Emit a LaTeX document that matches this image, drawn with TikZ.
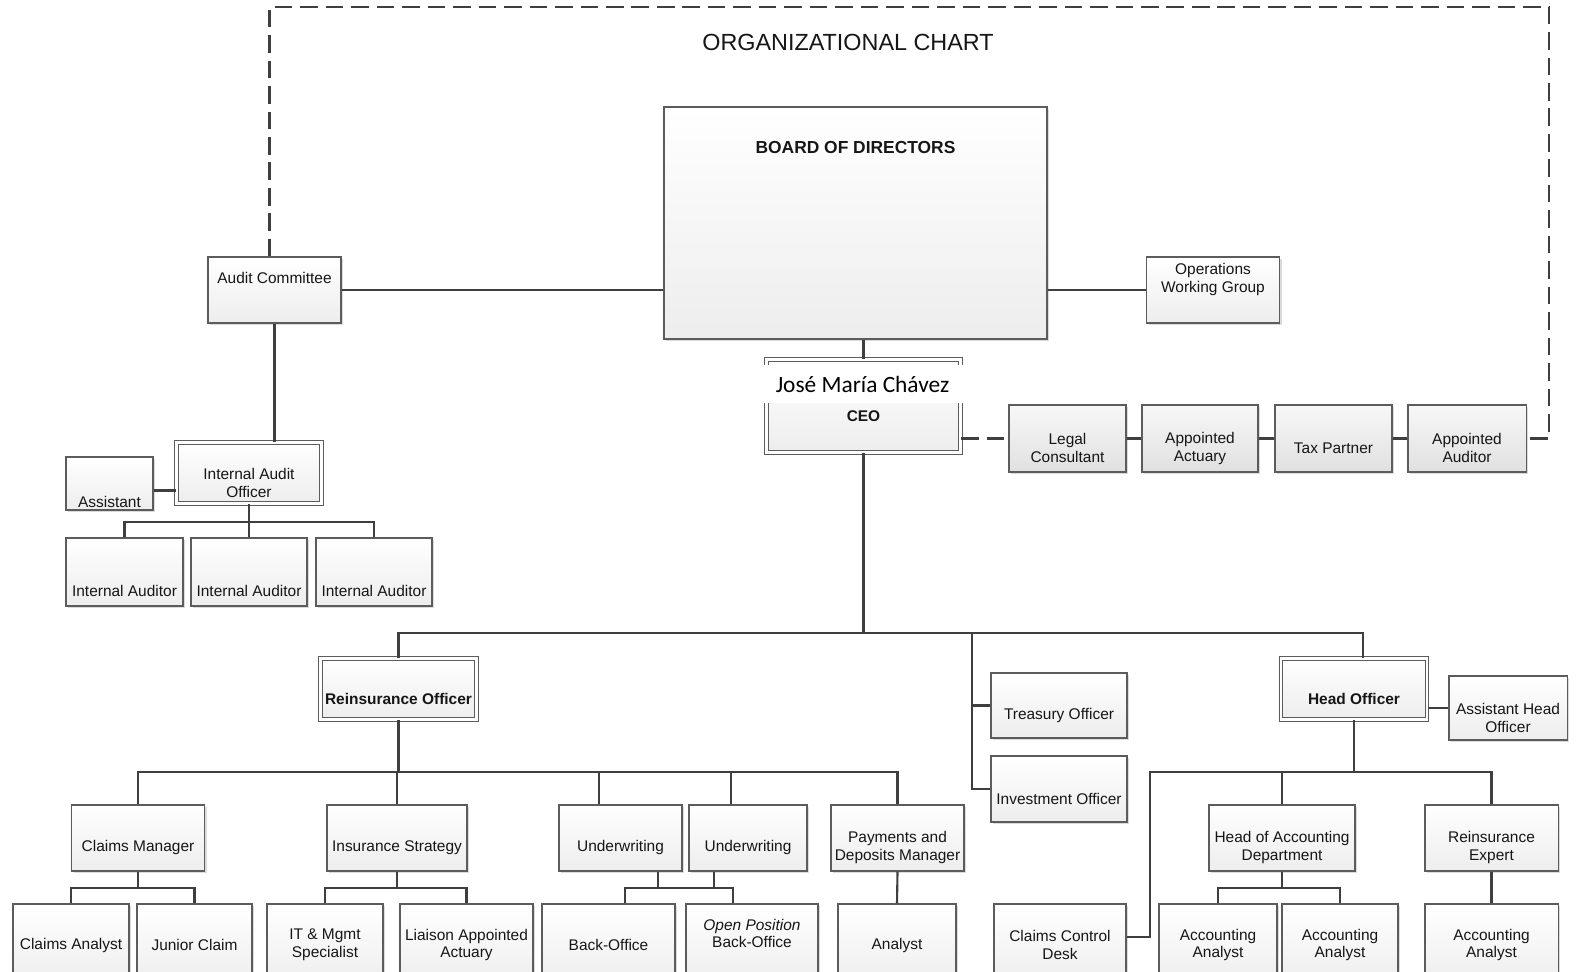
\documentclass[tikz,border=0pt]{standalone}
\usepackage{fontspec}
\setmainfont{Liberation Sans}
\newfontfamily\namefont{Carlito}
\usetikzlibrary{shadows}
\definecolor{ink}{HTML}{161616}
\definecolor{boxline}{HTML}{5C5C5C}
\definecolor{wire}{HTML}{3F3F3F}
\newcommand\boxfont{\fontsize{8.8}{10.2}\selectfont}
\tikzset{
  orgbox/.style   = {shape=rectangle, draw=boxline, line width=0.6pt,
                     align=center, inner sep=0pt, text=ink, font=\boxfont,
                     top color=white, bottom color=gray!14,
                     drop shadow={shadow xshift=1.3pt, shadow yshift=-1.3pt,
                                  opacity=.4, fill=gray!70}},
  headbox/.style  = {orgbox, double=white, double distance=1.6pt,
                     font=\boxfont\bfseries},
  advisor/.style  = {orgbox, top color=gray!6, bottom color=gray!24},
  wh/.style 2 args = {minimum width=#1*0.02cm, minimum height=#2*0.02cm},
  link/.style     = {draw=wire, line width=1.2pt},
  oversight/.style = {draw=wire, line width=1.2pt, dash pattern=on 10pt off 4.5pt}
}
\begin{document}
\begin{tikzpicture}[x=0.02cm, y=-0.02cm]
  \useasboundingbox (0,0) rectangle (1577,972);
  \clip (0,0) rectangle (1577,972);
  \fill[white] (0,0) rectangle (1577,972);

  \node[text=ink, font=\fontsize{13.3}{16}\selectfont] (title) at (848,42) {ORGANIZATIONAL CHART};

  \node[orgbox, wh={383}{232}, font=\fontsize{9.9}{12}\selectfont\bfseries,
        text height=0.92cm, text depth=3.72cm] (board) at (855.5,223) {BOARD OF DIRECTORS};
  \node[orgbox, wh={133}{66}] (audit) at (274.5,290) {Audit Committee\\\strut};
  \node[orgbox, wh={133}{66}] (ops) at (1213,290) {Operations\\Working Group\\\strut};
  \node[headbox, wh={194}{93}] (ceo) at (863.5,406) {\strut\\CEO};
  \node[fill=white, inner sep=0pt, minimum width=211*0.02cm, minimum height=38*0.02cm,
        text=black, font=\namefont\fontsize{13.3}{16}\selectfont] (name) at (862.5,384) {José María Chávez};

  \node[advisor, wh={117}{67}] (legal) at (1067.5,438.5) {\strut\\Legal\\Consultant};
  \node[advisor, wh={116}{67}] (actuary) at (1200,438.5) {\strut\\Appointed\\Actuary};
  \node[advisor, wh={117}{67}] (tax) at (1333.5,438.5) {\strut\\Tax Partner};
  \node[advisor, wh={118}{67}] (auditor) at (1467,438.5) {\strut\\Appointed\\Auditor};

  \node[headbox, font=\boxfont, wh={145}{61}] (iao) at (249,473) {\strut\\Internal Audit\\Officer};
  \node[orgbox, wh={87}{53}] (assist) at (109.5,483.5) {\strut\\\strut\\Assistant};
  \node[orgbox, wh={117}{68}] (ia1) at (124.5,572) {\strut\\\strut\\Internal Auditor};
  \node[orgbox, wh={116}{68}] (ia2) at (249,572) {\strut\\\strut\\Internal Auditor};
  \node[orgbox, wh={116}{68}] (ia3) at (374,572) {\strut\\\strut\\Internal Auditor};

  \node[headbox, wh={156}{61}] (reins) at (398.5,689) {\strut\\Reinsurance Officer};
  \node[orgbox, wh={136}{65}] (treasury) at (1059,705.5) {\strut\\Treasury Officer};
  \node[orgbox, wh={136}{66}] (invest) at (1059,789) {\strut\\Investment Officer};
  \node[headbox, wh={146}{61}] (head) at (1354,689) {\strut\\Head Officer};
  \node[orgbox, wh={118}{64}] (asshead) at (1508,708) {\strut\\Assistant Head\\Officer};

  \node[orgbox, wh={133}{66}] (claims) at (138,838) {\strut\\Claims Manager};
  \node[orgbox, wh={140}{66}] (strategy) at (397,838) {\strut\\Insurance Strategy};
  \node[orgbox, wh={123}{66}] (uwA) at (620.5,838) {\strut\\Underwriting};
  \node[orgbox, wh={118}{66}] (uwB) at (748,838) {\strut\\Underwriting};
  \node[orgbox, wh={133}{66}] (payments) at (897.5,838) {\strut\\Payments and\\Deposits Manager};
  \node[orgbox, wh={146}{66}] (acchead) at (1282,838) {\strut\\Head of Accounting\\Department};
  \node[orgbox, wh={133}{66}] (reexpert) at (1491.5,838) {\strut\\Reinsurance\\Expert};

  \node[orgbox, wh={116}{82}] (analyst1) at (71,945) {Claims Analyst};
  \node[orgbox, wh={115}{82}] (junior) at (194.5,945) {Junior Claim};
  \node[orgbox, wh={116}{82}] (itspec) at (325,945) {IT \& Mgmt\\Specialist};
  \node[orgbox, wh={133}{82}] (liaison) at (466.5,945) {Liaison Appointed\\Actuary};
  \node[orgbox, wh={133}{82}] (backA) at (608.5,945) {Back-Office};
  \node[orgbox, wh={132}{82}] (backB) at (752,945) {\textit{Open Position}\\Back-Office\\\strut};
  \node[orgbox, wh={118}{82}] (analyst2) at (897,945) {Analyst};
  \node[orgbox, wh={132}{82}] (control) at (1060,945) {Claims Control\\Desk};
  \node[orgbox, wh={118}{82}] (accA) at (1218,945) {Accounting\\Analyst};
  \node[orgbox, wh={116}{82}] (accB) at (1340,945) {Accounting\\Analyst};
  \node[orgbox, wh={133}{82}] (accC) at (1491.5,945) {Accounting\\Analyst};

  \coordinate (busA) at (0,633);
  \coordinate (busB) at (0,772);
  \coordinate (busC) at (0,888);
  \coordinate (busD) at (0,522);
  \coordinate (corner) at (1549,7);
  \coordinate (finance) at (972,633);
  \coordinate (deskturn) at (1150,772);
  \coordinate (audittop) at ([xshift=-0.1cm]audit.north);
  \coordinate (headtop) at ([xshift=0.18cm]head.north);
  \coordinate (uwAtop) at ([xshift=-0.43cm]uwA.north);
  \coordinate (uwBtop) at ([xshift=-0.34cm]uwB.north);
  \coordinate (uwAlow) at ([xshift=0.75cm]uwA.south);
  \coordinate (uwBlow) at ([xshift=-0.68cm]uwB.south);
  \coordinate (backAtop) at ([xshift=0.33cm]backA.north);
  \coordinate (backBtop) at ([xshift=-0.38cm]backB.north);

  \draw[oversight] (audittop) |- (corner) |- (auditor.east);
  \draw[oversight] (ceo.east |- legal.west) -- (legal.west);
  \draw[link] (audit.east) -- (audit.east -| board.west);
  \draw[link] (ops.west) -- (ops.west -| board.east);
  \draw[link] (ceo.north) -- (ceo.north |- board.south);
  \draw[link] (legal.east) -- (actuary.west);
  \draw[link] (actuary.east) -- (tax.west);
  \draw[link] (tax.east) -- (auditor.west);

  \draw[link] (audit.south) -- (audit.south |- iao.north);
  \draw[link] ([yshift=-0.14cm]assist.east) -- ([yshift=-0.14cm]assist.east -| iao.west);
  \draw[link] (iao.south) -- (iao.south |- busD);
  \draw[link] (ia1.north) |- (ia3.north |- busD) -- (ia3.north);
  \draw[link] (ia2.north) -- (ia2.north |- busD);

  \draw[link] (ceo.south) -- (ceo.south |- busA);
  \draw[link] (reins.north) |- (headtop |- busA) -- (headtop);
  \draw[link] (finance) |- (invest.west);
  \draw[link] (finance |- treasury.west) -- (treasury.west);

  \draw[link] (reins.south) -- (reins.south |- busB);
  \draw[link] (claims.north) |- (payments.north |- busB) -- (payments.north);
  \draw[link] (strategy.north) -- (strategy.north |- busB);
  \draw[link] (uwAtop) -- (uwAtop |- busB);
  \draw[link] (uwBtop) -- (uwBtop |- busB);

  \draw[link] (head.south) -- (head.south |- busB);
  \draw[link] (head.east |- asshead.west) -- (asshead.west);
  \draw[link] (reexpert.north) |- (deskturn) |- ([yshift=0.16cm]control.east);
  \draw[link] (acchead.north) -- (acchead.north |- busB);

  \draw[link] (claims.south) -- (claims.south |- busC);
  \draw[link] (analyst1.north) |- (junior.north |- busC) -- (junior.north);
  \draw[link] (strategy.south) -- (strategy.south |- busC);
  \draw[link] (itspec.north) |- (liaison.north |- busC) -- (liaison.north);
  \draw[link] (uwAlow) -- (uwAlow |- busC);
  \draw[link] (uwBlow) -- (uwBlow |- busC);
  \draw[link] (backAtop) |- (backBtop |- busC) -- (backBtop);
  \draw[link] (payments.south) -- (analyst2.north);
  \draw[link] (acchead.south) -- (acchead.south |- busC);
  \draw[link] (accA.north) |- (accB.north |- busC) -- (accB.north);
  \draw[link] (reexpert.south) -- (accC.north);
\end{tikzpicture}
\end{document}
